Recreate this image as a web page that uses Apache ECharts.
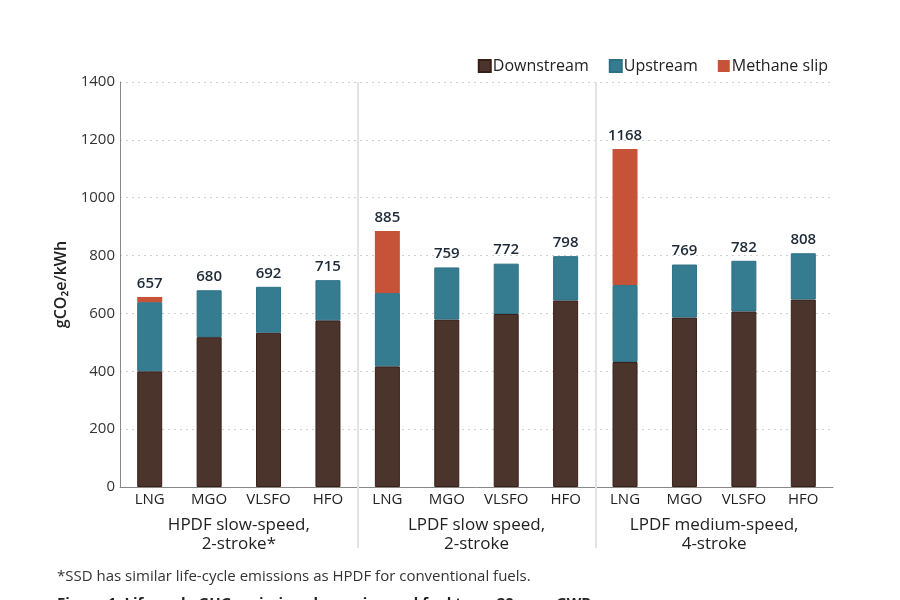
<!DOCTYPE html>
<html>
<head>
<meta charset="utf-8">
<script src="https://cdn.jsdelivr.net/npm/echarts@6/dist/echarts.min.js"></script>
<style>
  html, body { margin: 0; padding: 0; background: #fff; }
  #chart { width: 900px; height: 600px; }
</style>
</head>
<body>
<div id="chart"></div>
<script>
const fuels = ['LNG', 'MGO', 'VLSFO', 'HFO', 'LNG', 'MGO', 'VLSFO', 'HFO', 'LNG', 'MGO', 'VLSFO', 'HFO'];
const groups = ['HPDF slow-speed,\n2-stroke*', 'LPDF slow speed,\n2-stroke', 'LPDF medium-speed,\n4-stroke'];
// group boundaries, used only to draw the separator lines
const groupEdges = ['start', 'b1', 'b2', 'end'];

const downstream = [400, 518, 533, 576, 417, 579, 598, 645, 432, 586, 607, 648];
const upstream = [239, 162, 159, 139, 254, 180, 174, 153, 266, 183, 175, 160];
const methaneSlip = [18, 0, 0, 0, 214, 0, 0, 0, 470, 0, 0, 0];
const totals = [657, 680, 692, 715, 885, 759, 772, 798, 1168, 769, 782, 808];

const font = 'Open Sans';
const sepColor = '#e3e3e3';
const chart = echarts.init(document.getElementById('chart'));

chart.setOption({
  animation: false,
  textStyle: { fontFamily: font },
  grid: { left: 120, right: 67, top: 82, bottom: 113 },
  legend: {
    right: 67,
    top: 53,
    icon: 'rect',
    itemWidth: 12,
    itemHeight: 12,
    itemGap: 20,
    textStyle: { fontSize: 16, color: '#222', fontFamily: font, padding: [0, 0, 0, -3] },
    data: ['Downstream', 'Upstream', 'Methane slip']
  },
  xAxis: [
    {
      type: 'category',
      data: fuels,
      axisLine: { lineStyle: { color: '#888', width: 1 } },
      axisTick: { show: false },
      axisLabel: { color: '#222', fontSize: 15, margin: 5, interval: 0 }
    },
    {
      type: 'category',
      data: groups,
      position: 'bottom',
      axisLine: { show: false },
      axisTick: { show: false },
      axisLabel: { color: '#222', fontSize: 17, margin: 29, lineHeight: 19, interval: 0 }
    },
    {
      type: 'category',
      data: groupEdges,
      boundaryGap: false,
      position: 'bottom',
      axisLine: { show: false },
      axisLabel: { show: false },
      axisTick: {
        show: true,
        length: 61,
        interval: (i) => i === 1 || i === 2,
        lineStyle: { color: sepColor, width: 2 }
      },
      splitLine: {
        show: true,
        interval: (i) => i === 1 || i === 2,
        lineStyle: { color: sepColor, width: 2 }
      }
    }
  ],
  yAxis: {
    type: 'value',
    min: 0,
    max: 1400,
    interval: 200,
    name: 'gCO\u2082e/kWh',
    nameLocation: 'middle',
    nameGap: 46,
    nameTextStyle: { fontSize: 16, fontWeight: 600, color: '#222' },
    axisLine: { show: true, lineStyle: { color: '#888' } },
    axisTick: { show: false },
    axisLabel: { color: '#333', fontSize: 15, margin: 5, formatter: (v) => String(v) },
    splitLine: { lineStyle: { color: '#cfcfcf', type: [2, 4] } }
  },
  series: [
    {
      name: 'Downstream',
      type: 'bar',
      stack: 'total',
      barWidth: 25,
      data: downstream,
      itemStyle: { color: '#4a342c', borderColor: '#3a1f17', borderWidth: 1 }
    },
    {
      name: 'Upstream',
      type: 'bar',
      stack: 'total',
      barWidth: 25,
      data: upstream,
      itemStyle: { color: '#367c90', borderColor: '#2d7086', borderWidth: 1 }
    },
    {
      name: 'Methane slip',
      type: 'bar',
      stack: 'total',
      barWidth: 25,
      data: methaneSlip,
      itemStyle: { color: '#c65338', borderWidth: 0 },
      label: {
        show: true,
        position: 'top',
        distance: 6,
        formatter: (p) => totals[p.dataIndex],
        color: '#1e2a38',
        fontSize: 15,
        fontWeight: 600
      }
    }
  ],
  graphic: [
    {
      type: 'text',
      left: 57,
      top: 569,
      style: {
        text: '*SSD has similar life-cycle emissions as HPDF for conventional fuels.',
        fontSize: 15,
        fill: '#333',
        fontFamily: font
      }
    },
    {
      type: 'text',
      left: 57,
      top: 596,
      style: {
        text: 'Figure 1. Life-cycle GHG emissions by engine and fuel type, 20-year GWP',
        fontSize: 15,
        fontWeight: 'bold',
        fill: '#222',
        fontFamily: font
      }
    }
  ]
});
</script>
</body>
</html>
